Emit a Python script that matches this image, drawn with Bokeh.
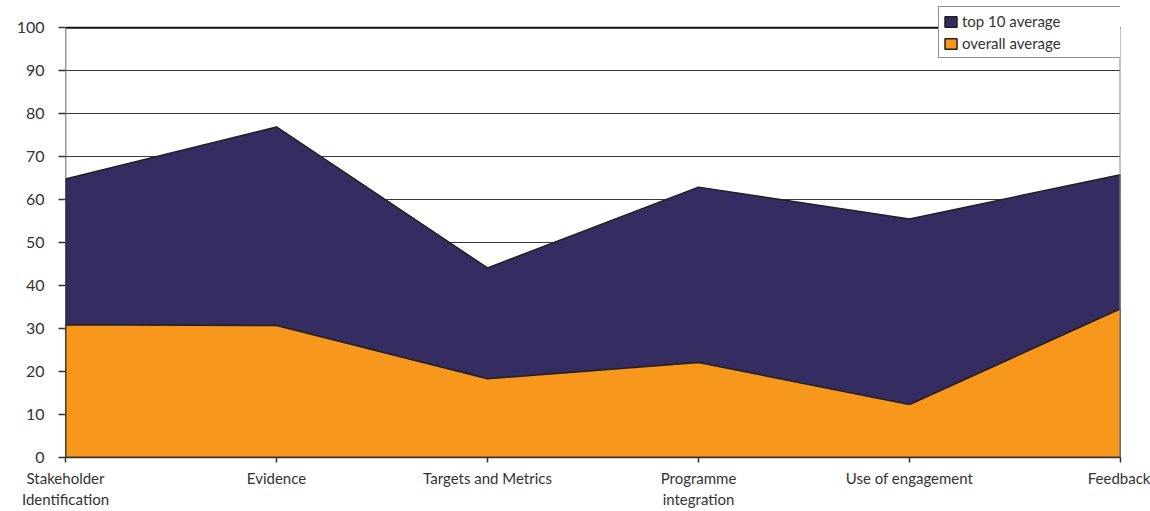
from bokeh.plotting import figure
from bokeh.models import Range1d, FixedTicker, Legend, LegendItem
from bokeh.embed import file_html
from bokeh.resources import INLINE

categories = ["Stakeholder\nIdentification", "Evidence", "Targets and Metrics",
              "Programme\nintegration", "Use of engagement", "Feedback"]
top10_avg = [64.8, 76.9, 44.1, 62.9, 55.5, 65.8]
overall_avg = [30.9, 30.7, 18.3, 22.1, 12.3, 34.6]
y_ticks = [0, 10, 20, 30, 40, 50, 60, 70, 80, 90, 100]

FONT = "Lato"
TXT = "#333333"

xs = list(range(len(categories)))
ymax = y_ticks[-1]

p = figure(width=1150, height=511, output_backend="svg", toolbar_location=None,
           x_range=Range1d(0, len(categories) - 1), y_range=Range1d(0, ymax * 1.0515),
           min_border_left=65, min_border_right=30, min_border_top=5, min_border_bottom=52)
p.outline_line_color = None
p.background_fill_color = "white"

# grid
p.xgrid.visible = False
p.ygrid.ticker = FixedTicker(ticks=y_ticks)
p.ygrid.grid_line_color = "#3a3a3a"
p.ygrid.grid_line_width = 1

# areas
px = xs + [xs[-1], xs[0]]
r1 = p.patch(px, top10_avg + [0, 0], fill_color="#352c62", line_color="#231f20", line_width=1.5)
r2 = p.patch(px, overall_avg + [0, 0], fill_color="#f7981d", line_color="#231f20", line_width=1.5)

# top border, left axis line and right border (end at 100)
p.segment(x0=[xs[0]], y0=[ymax], x1=[xs[-1]], y1=[ymax], line_color="#111111", line_width=2)
p.segment(x0=[xs[-1]], y0=[0], x1=[xs[-1]], y1=[ymax], line_color="#8a8a8a", line_width=2)
p.segment(x0=[xs[0]], y0=[0], x1=[xs[0]], y1=[ymax], line_color="#333333", line_width=1.5)

# axes
p.yaxis.ticker = FixedTicker(ticks=y_ticks)
p.xaxis.ticker = FixedTicker(ticks=xs)
p.xaxis.major_label_overrides = {i: c for i, c in enumerate(categories)}
for ax in (p.xaxis, p.yaxis):
    ax.axis_line_color = "#333333"
    ax.axis_line_width = 1.5
    ax.major_tick_line_color = "#333333"
    ax.major_tick_line_width = 1.5
    ax.major_tick_in = 0
    ax.minor_tick_line_color = None
    ax.major_label_text_font = FONT
    ax.major_label_text_font_size = "15px"
    ax.major_label_text_color = TXT
p.yaxis.major_label_text_font_size = "16px"
p.yaxis.axis_line_color = None
p.yaxis.major_tick_out = 7
p.yaxis.major_label_standoff = 14
p.xaxis.major_tick_out = 5
p.xaxis.major_label_standoff = 6

legend = Legend(items=[LegendItem(label="top 10 average", renderers=[r1]),
                       LegendItem(label="overall average", renderers=[r2])],
                location=(873, 399))
legend.border_line_color = "#222222"
legend.border_line_width = 1
legend.background_fill_color = "white"
legend.background_fill_alpha = 1
legend.label_text_font = FONT
legend.label_text_font_size = "15px"
legend.label_text_color = TXT
legend.glyph_width = 15
legend.glyph_height = 13
legend.label_standoff = 4
legend.spacing = 2
legend.padding = 4
legend.margin = 0
legend.label_height = 20
legend.label_width = 155
p.add_layout(legend)

open("out.html", "w").write(file_html(p, INLINE))
